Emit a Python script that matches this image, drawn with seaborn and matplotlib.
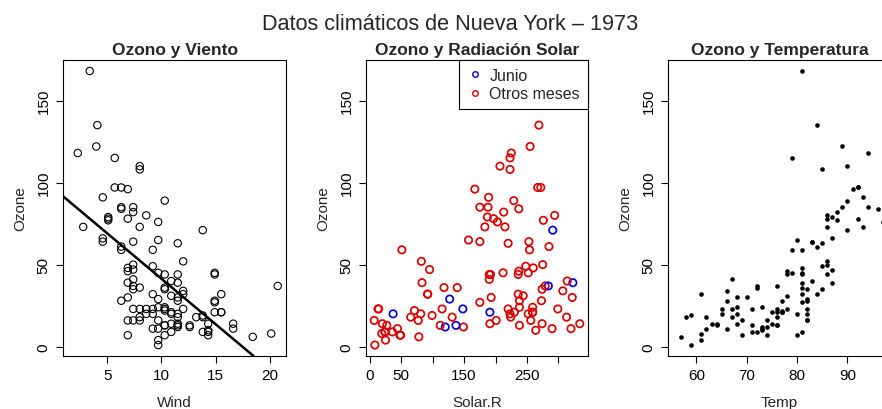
import numpy as np
import pandas as pd
import matplotlib
matplotlib.use("Agg")
import matplotlib.pyplot as plt
from matplotlib.lines import Line2D
import seaborn as sns

NA = np.nan
ozone = [41,36,12,18,NA,28,23,19,8,NA,7,16,11,14,18,14,34,6,30,11,1,11,4,32,NA,NA,NA,23,45,115,37,
         NA,NA,NA,NA,NA,NA,29,NA,71,39,NA,NA,23,NA,NA,21,37,20,12,13,NA,NA,NA,NA,NA,NA,NA,NA,NA,NA,
         135,49,32,NA,64,40,77,97,97,85,NA,10,27,NA,7,48,35,61,79,63,16,NA,NA,80,108,20,52,82,50,64,59,
         39,9,16,78,35,66,122,89,110,NA,NA,44,28,65,NA,22,59,23,31,44,21,9,NA,45,168,73,NA,76,118,84,85,
         96,78,73,91,47,32,20,23,21,24,44,21,28,9,13,46,18,13,24,16,13,23,36,7,14,30,NA,14,18,20]
solar_r = [190,118,149,313,NA,NA,299,99,19,194,NA,256,290,274,65,334,307,78,322,44,8,320,25,92,66,266,NA,13,252,223,279,
           286,287,242,186,220,264,127,273,291,323,259,250,148,332,322,191,284,37,120,137,150,59,91,250,135,127,47,98,31,138,
           269,248,236,101,175,314,276,267,272,175,139,264,175,291,48,260,274,285,187,220,7,258,295,294,223,81,82,213,275,253,254,
           83,24,77,NA,NA,NA,255,229,207,222,137,192,273,157,64,71,51,115,244,190,259,36,255,212,238,215,153,203,225,237,188,
           167,197,183,189,95,92,252,220,230,259,236,259,238,24,112,237,224,27,238,201,238,14,139,49,20,193,145,191,131,223]
wind = [7.4,8.0,12.6,11.5,14.3,14.9,8.6,13.8,20.1,8.6,6.9,9.7,9.2,10.9,13.2,11.5,12.0,18.4,11.5,9.7,9.7,16.6,9.7,12.0,16.6,14.9,8.0,12.0,14.9,5.7,7.4,
        8.6,9.7,16.1,9.2,8.6,14.3,9.7,6.9,13.8,11.5,10.9,9.2,8.0,13.8,11.5,14.9,20.7,9.2,11.5,10.3,6.3,1.7,4.6,6.3,8.0,8.0,10.3,11.5,14.9,8.0,
        4.1,9.2,9.2,10.9,4.6,10.9,5.1,6.3,5.7,7.4,8.6,14.3,14.9,14.9,14.3,6.9,10.3,6.3,5.1,11.5,6.9,9.7,11.5,8.6,8.0,8.6,12.0,7.4,7.4,7.4,9.2,
        6.9,13.8,7.4,6.9,7.4,4.6,4.0,10.3,8.0,8.6,11.5,11.5,11.5,9.7,11.5,10.3,6.3,7.4,10.9,10.3,15.5,14.3,12.6,9.7,3.4,8.0,5.7,9.7,2.3,6.3,6.3,
        6.9,5.1,2.8,4.6,7.4,15.5,10.9,10.3,10.9,9.7,14.9,15.5,6.3,10.9,11.5,6.9,13.8,10.3,10.3,8.0,12.6,9.2,10.3,10.3,16.6,6.9,13.2,14.3,8.0,11.5]
temp = [67,72,74,62,56,66,65,59,61,69,74,69,66,68,58,64,66,57,68,62,59,73,61,61,57,58,57,67,81,79,76,
        78,74,67,84,85,79,82,87,90,87,93,92,82,80,79,77,72,65,73,76,77,76,76,76,75,78,73,80,77,83,
        84,85,81,84,83,83,88,92,92,89,82,73,81,91,80,81,82,84,87,85,74,81,82,86,85,82,86,88,86,83,81,
        81,81,82,86,85,87,89,90,90,92,86,86,82,80,79,77,79,76,78,78,77,72,75,79,81,86,88,97,94,96,94,
        91,92,93,93,87,84,80,78,75,73,81,76,77,71,71,78,67,76,68,82,64,71,81,69,63,70,77,75,76,68]
month = [5]*31 + [6]*30 + [7]*31 + [8]*31 + [9]*30

month_labels = ["Junio", "Otros meses"]
ozone_ticks = [0, 50, 100, 150]
wind_ticks = [5, 10, 15, 20]
solar_ticks = [0, 50, 100, 150, 200, 250, 300]
solar_labels = ["0", "50", "", "150", "", "250", ""]
temp_ticks = [60, 70, 80, 90]

df = pd.DataFrame({"Ozone": ozone, "Solar.R": solar_r, "Wind": wind,
                   "Temp": temp, "Month": month})
df["Grupo"] = np.where(df["Month"] == 6, month_labels[0], month_labels[1])

sns.set_style("ticks")
plt.rcParams["font.family"] = ["Liberation Sans", "DejaVu Sans"]
plt.rcParams["axes.edgecolor"] = "black"
plt.rcParams["axes.linewidth"] = 0.8

W, H = 882, 410
fig = plt.figure(figsize=(W / 100, H / 100), dpi=100)

def rect(l, r, t, b):
    return [l / W, 1 - b / H, (r - l) / W, (b - t) / H]

ax1 = fig.add_axes(rect(63, 286, 61, 357))
ax2 = fig.add_axes(rect(366, 588, 61, 357))
ax3 = fig.add_axes(rect(668, 891, 61, 357))

def rlim(v):
    v = np.asarray(v, dtype=float)
    v = v[~np.isnan(v)]
    lo, hi = v.min(), v.max()
    d = (hi - lo) * 0.04
    return lo - d, hi + d

tick_fs = 11
title_fs = 12.5
blue, red = "#0000e0", "#dd0000"

# Panel 1
sns.scatterplot(data=df, x="Wind", y="Ozone", ax=ax1, marker="o", s=28,
                fc="none", ec="black", linewidth=0.8)
sub = df.dropna(subset=["Ozone", "Wind"])
m, b = np.polyfit(sub["Wind"], sub["Ozone"], 1)
ax1.axline((0, b), slope=m, color="black", lw=1.8)
ax1.set_xlim(rlim(wind))
ax1.set_xticks(wind_ticks)
ax1.set_title("Ozono y Viento", fontweight="bold", fontsize=title_fs, pad=4)

# Panel 2
sns.scatterplot(data=df, x="Solar.R", y="Ozone", hue="Grupo", ax=ax2,
                palette={month_labels[0]: blue, month_labels[1]: red},
                marker="o", s=28, linewidth=1.25, legend=False)
coll = ax2.collections[-1]
fcs = coll.get_facecolors()
coll.set_edgecolors(fcs)
coll.set_facecolors("none")
ax2.set_xlim(rlim(solar_r))
ax2.set_xticks(solar_ticks)
ax2.set_xticklabels(solar_labels)
ax2.set_title("Ozono y Radiación Solar", fontweight="bold", fontsize=title_fs, pad=4)
handles = [Line2D([], [], ls="none", marker="o", ms=4, mfc="none", mec=c, mew=1.0)
           for c in [blue, red]]
leg = ax2.legend(handles, month_labels, loc="upper right", fontsize=11.5,
                 frameon=True, fancybox=False, framealpha=1, edgecolor="black",
                 borderaxespad=0, handletextpad=0.4, borderpad=0.5,
                 labelspacing=0.2, handlelength=1.0)
leg.get_frame().set_linewidth(0.8)

# Panel 3
sns.scatterplot(data=df, x="Temp", y="Ozone", ax=ax3, marker="o", s=11,
                color="black", linewidth=0)
ax3.set_xlim(rlim(temp))
ax3.set_xticks(temp_ticks)
ax3.set_title("Ozono y Temperatura", fontweight="bold", fontsize=title_fs, pad=4)

for ax in (ax1, ax2, ax3):
    ax.set_ylim(rlim(ozone))
    ax.set_yticks(ozone_ticks)
    for lab in ax.get_yticklabels():
        lab.set_rotation(90)
        lab.set_va("center")
    ax.tick_params(direction="out", length=5, width=0.8, labelsize=tick_fs,
                   pad=4, colors="black")
    ax.set_ylabel("Ozone", fontsize=tick_fs, labelpad=7)
    ax.set_xlabel(ax.get_xlabel(), fontsize=tick_fs, labelpad=9)
    for sp in ax.spines.values():
        sp.set_visible(True)
        sp.set_linewidth(0.8)

fig.text(450 / W, 1 - 24 / H, "Datos climáticos de Nueva York – 1973",
         ha="center", va="center", fontsize=15.6)

fig.savefig("out.png", dpi=100)
